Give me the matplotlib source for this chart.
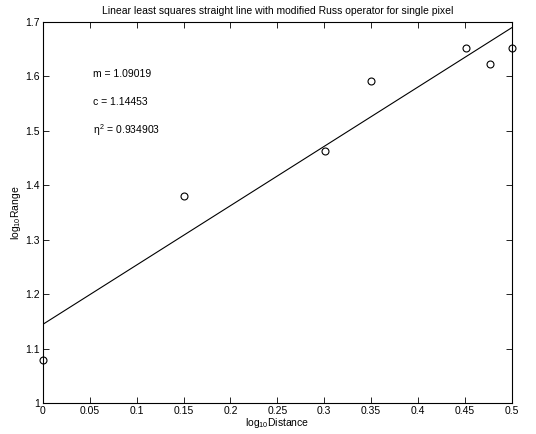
import numpy as np
import matplotlib
matplotlib.use('Agg')
import matplotlib.pyplot as plt

plt.rcParams['font.family'] = ['Liberation Sans', 'DejaVu Sans']
plt.rcParams['mathtext.fontset'] = 'custom'
plt.rcParams['mathtext.rm'] = 'Liberation Sans'
plt.rcParams['mathtext.it'] = 'Liberation Sans'

distance = [0.0, 0.1505, 0.3010, 0.3495, 0.4515, 0.4771, 0.5]
range_vals = [1.079, 1.380, 1.463, 1.591, 1.653, 1.623, 1.653]
m = 1.09019
c = 1.14453
eta2 = 0.934903

fig = plt.figure(figsize=(5.36, 4.34), dpi=100)
ax = fig.add_axes([0.080, 0.0714, 0.875, 0.878])

xs = np.array([0.0, 0.5])
ax.plot(xs, m * xs + c, 'k-', linewidth=0.8)
ax.plot(distance, range_vals, 'o', mfc='none', mec='k', ms=5, mew=0.8, clip_on=False)

ax.set_xlim(0, 0.5)
ax.set_ylim(1, 1.7)
ax.set_xticks(np.arange(0, 0.51, 0.05))
ax.set_xticklabels(['0', '0.05', '0.1', '0.15', '0.2', '0.25', '0.3', '0.35', '0.4', '0.45', '0.5'])
ax.set_yticks(np.arange(1, 1.71, 0.1))
ax.set_yticklabels(['1', '1.1', '1.2', '1.3', '1.4', '1.5', '1.6', '1.7'])
ax.tick_params(direction='in', top=True, right=True, labelsize=7.5, length=4, width=0.6, pad=2)
for s in ax.spines.values():
    s.set_linewidth(0.8)

ax.set_xlabel('log$_{10}$Distance', fontsize=7.5, labelpad=0)
ax.set_ylabel('log$_{10}$Range', fontsize=7.5, labelpad=2)
ax.set_title('Linear least squares straight line with modified Russ operator for single pixel',
             fontsize=7.5, pad=6)

ax.text(0.053, 1.604, f'm = {m}', fontsize=7.5, va='center')
ax.text(0.053, 1.553, f'c = {c}', fontsize=7.5, va='center')
ax.text(0.053, 1.502, f'$\\eta^2$ = {eta2}', fontsize=7.5, va='center')

fig.savefig('out.png', dpi=100)
